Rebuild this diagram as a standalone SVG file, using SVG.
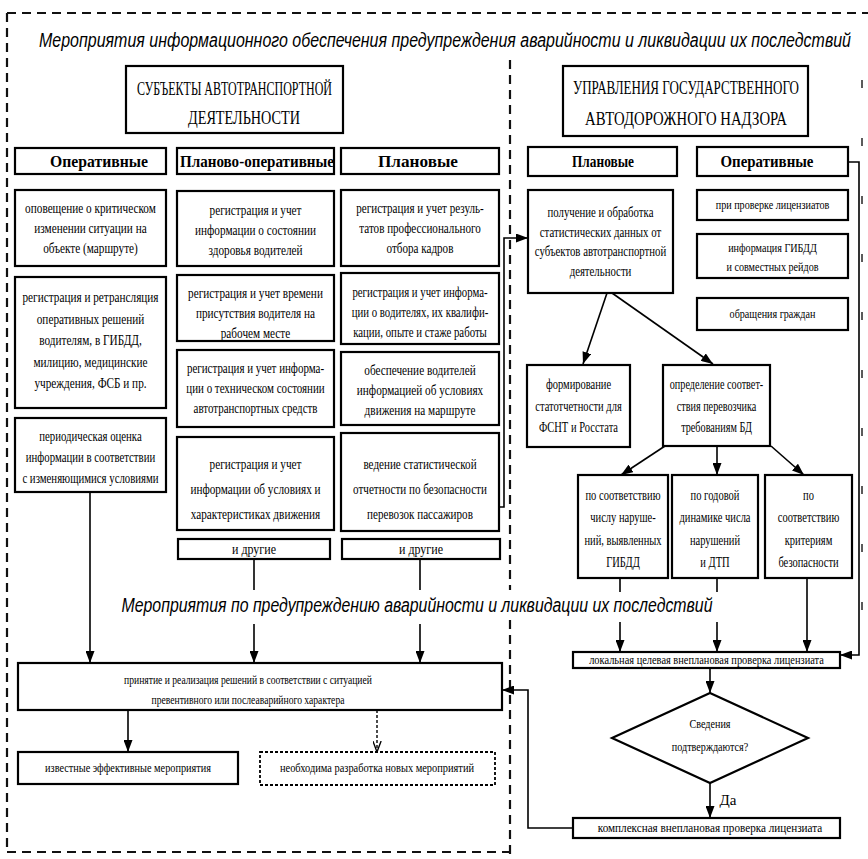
<svg xmlns="http://www.w3.org/2000/svg" width="868" height="859" viewBox="0 0 868 859">
<style>
.b{fill:#fff;stroke:#000;stroke-width:2.2}
.bd{fill:#fff;stroke:#000;stroke-width:1.8;stroke-dasharray:3 2}
.t{font-family:"Liberation Serif","Times New Roman","DejaVu Serif",serif;font-size:15px;text-anchor:middle;fill:#000}
.s{font-size:13px}
.h{font-weight:bold;font-size:17px}
.u{font-size:19px}
.ti{font-family:"Liberation Sans",Arial,sans-serif;font-style:italic;font-size:16px;fill:#000;text-anchor:middle}
.c{stroke:#000;stroke-width:1.6;fill:none}
.cd{stroke:#000;stroke-width:1.4;fill:none;stroke-dasharray:3 2}
.fr{stroke:#111;stroke-width:2.2;fill:none;stroke-dasharray:9 6}
.fr2{stroke:#333;stroke-width:1.6;fill:none;stroke-dasharray:8 50}
</style>
<defs>
<marker id="ar" viewBox="0 0 12 9" refX="12" refY="4.5" markerWidth="12" markerHeight="9" markerUnits="userSpaceOnUse" orient="auto"><path d="M0,0 L12,4.5 L0,9 z" fill="#000"/></marker>
<marker id="ao" viewBox="0 0 12 9" refX="12" refY="4.5" markerWidth="11" markerHeight="9" markerUnits="userSpaceOnUse" orient="auto"><path d="M0,0 L12,4.5 L0,9" fill="none" stroke="#000" stroke-width="1.5"/></marker>
</defs>
<rect width="868" height="859" fill="#fff"/>

<g id="frame">
<path class="fr" d="M7,13 H868"/>
<path class="fr" d="M7,13 V852"/>
<path class="fr" d="M7,852 H510"/>
<path class="fr" d="M510,60 V590"/>
<path class="fr" d="M510,620 V859"/>
<path class="fr2" d="M862,80 V620"/>
</g>

<g id="title1" transform="translate(445 47) scale(1 1.3)"><text class="ti" x="0" y="0" textLength="812" lengthAdjust="spacingAndGlyphs">Мероприятия информационного обеспечения предупреждения аварийности и ликвидации их последствий</text></g>
<g id="title2" transform="translate(417 612) scale(1 1.3)"><text class="ti" x="0" y="0" textLength="591" lengthAdjust="spacingAndGlyphs">Мероприятия по предупреждению аварийности и ликвидации их последствий</text></g>

<g id="connectors">
<path class="c" d="M90,492 V663" marker-end="url(#ar)"/>
<path class="c" d="M254,559 V590"/>
<path class="c" d="M254,624 V663" marker-end="url(#ar)"/>
<path class="c" d="M420,559 V590"/>
<path class="c" d="M420,624 V663" marker-end="url(#ar)"/>
<path class="c" d="M128,710 V752" marker-end="url(#ar)"/>
<path class="cd" d="M377,710 V752" marker-end="url(#ao)"/>
<path class="c" d="M499,507 H504 V238 H528" marker-end="url(#ar)"/>
<path class="c" d="M607,293 L583,364" marker-end="url(#ar)"/>
<path class="c" d="M612,293 L713,364" marker-end="url(#ar)"/>
<path class="c" d="M665,446 L621,475" marker-end="url(#ar)"/>
<path class="c" d="M717,446 V475" marker-end="url(#ar)"/>
<path class="c" d="M771,446 L804,475" marker-end="url(#ar)"/>
<path class="c" d="M620,578 V592"/>
<path class="c" d="M620,622 V652" marker-end="url(#ar)"/>
<path class="c" d="M717,578 V592"/>
<path class="c" d="M717,622 V652" marker-end="url(#ar)"/>
<path class="c" d="M807,578 V652" marker-end="url(#ar)"/>
<path class="c" d="M848,162 H859 V655 H840" marker-end="url(#ar)"/>
<path class="c" d="M710,668 V693" marker-end="url(#ar)"/>
<path class="c" d="M710,783 V818" marker-end="url(#ar)"/>
<path class="c" d="M573,828 H528 V690 H502" marker-end="url(#ar)"/>
</g>

<g id="subjects">
<rect class="b" x="126" y="66" width="217" height="67"/>
<text class="t u" x="234.5" y="95" textLength="195" lengthAdjust="spacingAndGlyphs">СУБЪЕКТЫ АВТОТРАНСПОРТНОЙ</text>
<text class="t u" x="244" y="124" textLength="112" lengthAdjust="spacingAndGlyphs">ДЕЯТЕЛЬНОСТИ</text>
</g>
<g id="gadn">
<rect class="b" x="563" y="66" width="245" height="70"/>
<g transform="translate(686 94) scale(1 1.36)"><text class="t" style="font-size:14px" x="0" y="0" textLength="226" lengthAdjust="spacingAndGlyphs">УПРАВЛЕНИЯ ГОСУДАРСТВЕННОГО</text></g>
<g transform="translate(686 125) scale(1 1.36)"><text class="t" style="font-size:14px" x="0" y="0" textLength="202" lengthAdjust="spacingAndGlyphs">АВТОДОРОЖНОГО НАДЗОРА</text></g>
</g>

<g id="h-oper"><rect class="b" x="15" y="148" width="151" height="26"/><text class="t h" x="99" y="167" textLength="98" lengthAdjust="spacingAndGlyphs">Оперативные</text></g>
<g id="h-planoper"><rect class="b" x="177" y="148" width="157" height="26"/><text class="t h" x="257" y="167" textLength="154" lengthAdjust="spacingAndGlyphs">Планово-оперативные</text></g>
<g id="h-plan"><rect class="b" x="341" y="148" width="158" height="26"/><text class="t h" x="418" y="167" textLength="80" lengthAdjust="spacingAndGlyphs">Плановые</text></g>

<g id="l1"><rect class="b" x="15" y="190" width="151" height="76"/>
<g transform="translate(90.5 0) scale(0.75 1)" class="t"><text x="0" y="213">оповещение о критическом</text><text x="0" y="233">изменении ситуации на</text><text x="0" y="253">объекте (маршруте)</text></g></g>
<g id="l2"><rect class="b" x="15" y="277" width="151" height="131"/>
<g transform="translate(90.5 0) scale(0.75 1)" class="t"><text x="0" y="302">регистрация и ретрансляция</text><text x="0" y="324">оперативных решений</text><text x="0" y="345">водителям, в ГИБДД,</text><text x="0" y="367">милицию, медицинские</text><text x="0" y="388">учреждения, ФСБ и пр.</text></g></g>
<g id="l3"><rect class="b" x="15" y="418" width="151" height="74"/>
<g transform="translate(90.5 0) scale(0.72 1)" class="t"><text x="0" y="441">периодическая оценка</text><text x="0" y="462">информации в соответствии</text><text x="0" y="483">с изменяющимися условиями</text></g></g>

<g id="m1"><rect class="b" x="177" y="191" width="157" height="75"/>
<g transform="translate(255.5 0) scale(0.75 1)" class="t"><text x="0" y="215">регистрация и учет</text><text x="0" y="235">информации о состоянии</text><text x="0" y="255">здоровья водителей</text></g></g>
<g id="m2"><rect class="b" x="177" y="275" width="157" height="66"/>
<g transform="translate(255.5 0) scale(0.75 1)" class="t"><text x="0" y="298">регистрация и учет времени</text><text x="0" y="318">присутствия водителя на</text><text x="0" y="338">рабочем месте</text></g></g>
<g id="m3"><rect class="b" x="177" y="350" width="157" height="77"/>
<g transform="translate(255.5 0) scale(0.73 1)" class="t"><text x="0" y="373">регистрация и учет информа-</text><text x="0" y="393">ции о техническом состоянии</text><text x="0" y="413">автотранспортных средств</text></g></g>
<g id="m4"><rect class="b" x="177" y="437" width="157" height="93"/>
<g transform="translate(255.5 0) scale(0.75 1)" class="t"><text x="0" y="469">регистрация и учет</text><text x="0" y="494">информации об условиях и</text><text x="0" y="519">характеристиках движения</text></g></g>
<g id="m5"><rect class="b" x="178" y="539" width="152" height="20"/>
<g transform="translate(254 0) scale(0.8 1)" class="t"><text x="0" y="554">и другие</text></g></g>

<g id="p1"><rect class="b" x="341" y="190" width="158" height="76"/>
<g transform="translate(420 0) scale(0.74 1)" class="t"><text x="0" y="213">регистрация и учет резуль-</text><text x="0" y="233">татов профессионального</text><text x="0" y="253">отбора кадров</text></g></g>
<g id="p2"><rect class="b" x="341" y="273" width="158" height="71"/>
<g transform="translate(420 0) scale(0.72 1)" class="t"><text x="0" y="297">регистрация и учет информа-</text><text x="0" y="317">ции о водителях, их квалифи-</text><text x="0" y="337">кации, опыте и стаже работы</text></g></g>
<g id="p3"><rect class="b" x="341" y="352" width="158" height="73"/>
<g transform="translate(420 0) scale(0.75 1)" class="t"><text x="0" y="375">обеспечение водителей</text><text x="0" y="395">информацией об условиях</text><text x="0" y="415">движения на маршруте</text></g></g>
<g id="p4"><rect class="b" x="341" y="433" width="158" height="98"/>
<g transform="translate(420 0) scale(0.74 1)" class="t"><text x="0" y="469">ведение статистической</text><text x="0" y="494">отчетности по безопасности</text><text x="0" y="519">перевозок пассажиров</text></g></g>
<g id="p5"><rect class="b" x="342" y="539" width="158" height="20"/>
<g transform="translate(421 0) scale(0.8 1)" class="t"><text x="0" y="554">и другие</text></g></g>

<g id="decide"><rect class="b" x="18" y="663" width="484" height="47"/>
<g transform="translate(248 0) scale(0.74 1)" class="t s"><text x="0" y="684">принятие и реализация решений в соответствии с ситуацией</text><text x="0" y="704">превентивного  или послеаварийного характера</text></g></g>
<g id="known"><rect class="b" x="18" y="752" width="220" height="32"/>
<g transform="translate(128 0) scale(0.79 1)" class="t s"><text x="0" y="772">известные эффективные мероприятия</text></g></g>
<g id="newm"><rect class="bd" x="260" y="752" width="235" height="33"/>
<g transform="translate(377 0) scale(0.8 1)" class="t s"><text x="0" y="772">необходима разработка новых мероприятий</text></g></g>

<g id="r-plan"><rect class="b" x="528" y="147" width="149" height="29"/><text class="t h" x="603" y="167" textLength="62" lengthAdjust="spacingAndGlyphs">Плановые</text></g>
<g id="r-oper"><rect class="b" x="697" y="147" width="151" height="29"/><text class="t h" x="767" y="167" textLength="93" lengthAdjust="spacingAndGlyphs">Оперативные</text></g>

<g id="stat"><rect class="b" x="528" y="190" width="145" height="103"/>
<g transform="translate(600.5 0) scale(0.72 1)" class="t"><text x="0" y="217">получение и обработка</text><text x="0" y="237">статистических данных от</text><text x="0" y="256">субъектов автотранспортной</text><text x="0" y="276">деятельности</text></g></g>
<g id="o1"><rect class="b" x="697" y="190" width="151" height="30"/>
<g transform="translate(772.5 0) scale(0.78 1)" class="t s"><text x="0" y="209">при проверке лицензиатов</text></g></g>
<g id="o2"><rect class="b" x="697" y="234" width="151" height="44"/>
<g transform="translate(772.5 0) scale(0.78 1)" class="t s"><text x="0" y="252">информация ГИБДД</text><text x="0" y="271">и совместных рейдов</text></g></g>
<g id="o3"><rect class="b" x="697" y="298" width="151" height="32"/>
<g transform="translate(772.5 0) scale(0.78 1)" class="t s"><text x="0" y="318">обращения граждан</text></g></g>

<g id="form"><rect class="b" x="527" y="365" width="103" height="82"/>
<g transform="translate(578.5 0) scale(0.7 1)" class="t"><text x="0" y="389">формирование</text><text x="0" y="411">статотчетности для</text><text x="0" y="432">ФСНТ и Росстата</text></g></g>
<g id="opr"><rect class="b" x="663" y="365" width="107" height="81"/>
<g transform="translate(716.5 0) scale(0.68 1)" class="t"><text x="0" y="389">определение соответ-</text><text x="0" y="411">ствия перевозчика</text><text x="0" y="432">требованиям БД</text></g></g>

<g id="k1"><rect class="b" x="578" y="475" width="90" height="103"/>
<g transform="translate(623 0) scale(0.7 1)" class="t"><text x="0" y="500">по соответствию</text><text x="0" y="522">числу наруше-</text><text x="0" y="545">ний, выявленных</text><text x="0" y="567">ГИБДД</text></g></g>
<g id="k2"><rect class="b" x="672" y="475" width="86" height="103"/>
<g transform="translate(715 0) scale(0.7 1)" class="t"><text x="0" y="500">по годовой</text><text x="0" y="522">динамике числа</text><text x="0" y="545">нарушений</text><text x="0" y="567">и ДТП</text></g></g>
<g id="k3"><rect class="b" x="765" y="475" width="87" height="103"/>
<g transform="translate(808.5 0) scale(0.7 1)" class="t"><text x="0" y="500">по</text><text x="0" y="522">соответствию</text><text x="0" y="545">критериям</text><text x="0" y="567">безопасности</text></g></g>

<g id="local"><rect class="b" x="573" y="652" width="267" height="16"/>
<g transform="translate(706.5 0) scale(0.8 1)" class="t s"><text x="0" y="664.5">локальная целевая внеплановая проверка лицензиата</text></g></g>
<g id="check"><polygon class="b" points="710,693 808,738 710,783 612,738"/>
<g transform="translate(710 0) scale(0.78 1)" class="t s"><text x="0" y="728">Сведения</text><text x="0" y="751">подтверждаются?</text></g></g>
<g id="yes"><text class="t" x="728" y="805">Да</text></g>
<g id="complex"><rect class="b" x="573" y="818" width="267" height="20"/>
<g transform="translate(710 0) scale(0.86 1)" class="t s"><text x="0" y="832.5">комплексная внеплановая проверка лицензиата</text></g></g>
</svg>
